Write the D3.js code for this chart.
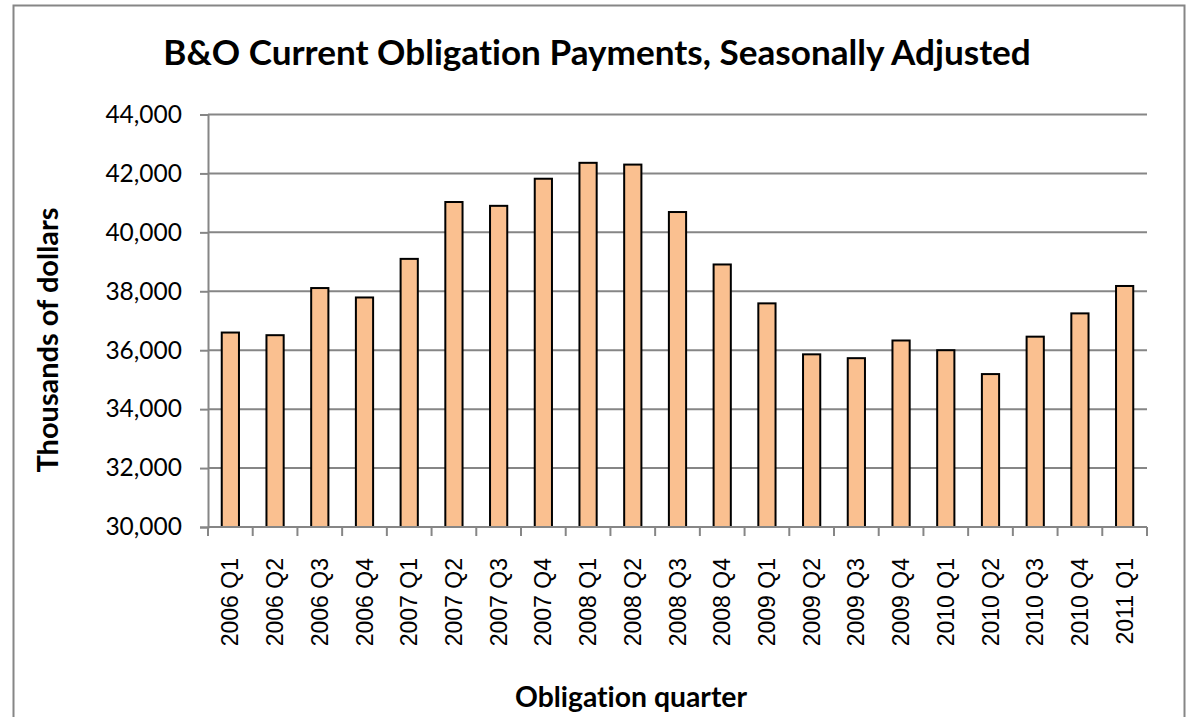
<!DOCTYPE html>
<html>
<head>
<meta charset="utf-8">
<script src="https://cdn.jsdelivr.net/npm/d3@7"></script>
<style>
  html, body { margin: 0; padding: 0; background: #fff; }
  svg { display: block; }
  text { font-variant-ligatures: none; font-feature-settings: "liga" 0, "clig" 0; }
</style>
</head>
<body>
<svg id="chart" width="1186" height="717"></svg>
<script>
const title = "B&O Current Obligation Payments, Seasonally Adjusted";
const yTitle = "Thousands of dollars";
const xTitle = "Obligation quarter";
const quarters = ["2006 Q1","2006 Q2","2006 Q3","2006 Q4","2007 Q1","2007 Q2","2007 Q3","2007 Q4",
  "2008 Q1","2008 Q2","2008 Q3","2008 Q4","2009 Q1","2009 Q2","2009 Q3","2009 Q4",
  "2010 Q1","2010 Q2","2010 Q3","2010 Q4","2011 Q1"];
const payments = [36600, 36510, 38110, 37790, 39100, 41030, 40900, 41820,
  42360, 42300, 40690, 38910, 37590, 35860, 35730, 36330,
  36000, 35190, 36460, 37250, 38180];
const yTicks = [30000, 32000, 34000, 36000, 38000, 40000, 42000, 44000];

const svg = d3.select("#chart");
const calibri = "Lato, 'Open Sans', sans-serif";
const arial = "'Liberation Sans', Arial, sans-serif";
const grey = "#868686";

function fit(sel, target) {
  const n = sel.node();
  const fs = parseFloat(sel.attr("font-size"));
  const w = n.getComputedTextLength();
  sel.attr("font-size", (fs * target / w).toFixed(2));
}

svg.append("rect").attr("x", 13.5).attr("y", 5.5).attr("width", 1171).attr("height", 730)
  .attr("fill", "#fff").attr("stroke", grey).attr("stroke-width", 2);

const plot = {left: 208, right: 1147, top: 114.5, bottom: 527};

const x = d3.scaleBand().domain(quarters).range([plot.left, plot.right]).paddingInner(0.615).paddingOuter(0.3075);
const xb = d3.scaleBand().domain(quarters).range([plot.left, plot.right]);
const y = d3.scaleLinear().domain([30000, 44000]).range([plot.bottom, plot.top]);

svg.append("g").selectAll("line").data(yTicks.slice(1)).join("line")
  .attr("x1", plot.left).attr("x2", plot.right)
  .attr("y1", d => y(d)).attr("y2", d => y(d))
  .attr("stroke", grey).attr("stroke-width", 2);

const yAxis = svg.append("g").attr("transform", `translate(${plot.left},0)`)
  .call(d3.axisLeft(y).tickValues(yTicks).tickFormat(d3.format(",")).tickSize(8).tickPadding(18));
yAxis.select(".domain").attr("stroke", grey).attr("stroke-width", 2);
yAxis.selectAll(".tick line").attr("stroke", grey).attr("stroke-width", 2);
yAxis.selectAll("text").attr("font-family", calibri).attr("font-size", 24.5).attr("fill", "#000");

svg.append("g").selectAll("rect").data(quarters).join("rect")
  .attr("x", d => x(d)).attr("width", x.bandwidth())
  .attr("y", (d, i) => y(payments[i])).attr("height", (d, i) => y(30000) - y(payments[i]))
  .attr("fill", "#FAC090").attr("stroke", "#000").attr("stroke-width", 2);

const xg = svg.append("g").attr("transform", `translate(0,${plot.bottom})`);
xg.append("line").attr("x1", plot.left).attr("x2", plot.right).attr("stroke", grey).attr("stroke-width", 2);
const bounds = quarters.map(q => xb(q)).concat([plot.right]);
xg.selectAll("line.tk").data(bounds).join("line").attr("class", "tk")
  .attr("x1", d => d).attr("x2", d => d).attr("y1", 0).attr("y2", 9)
  .attr("stroke", grey).attr("stroke-width", 2);
xg.selectAll("text").data(quarters).join("text")
  .attr("transform", d => `translate(${xb(d) + xb.bandwidth() / 2 + 8},31) rotate(-90)`)
  .attr("text-anchor", "end")
  .attr("font-family", arial).attr("font-size", 23).attr("fill", "#000")
  .text(d => d);

const t = svg.append("text").attr("x", 597).attr("y", 65).attr("text-anchor", "middle")
  .attr("font-family", calibri).attr("font-weight", "bold").attr("font-size", 31)
  .attr("fill", "#000").text(title);
fit(t, 868);

const yt = svg.append("text").attr("transform", "translate(58,340) rotate(-90)")
  .attr("text-anchor", "middle").attr("font-family", calibri).attr("font-weight", "bold")
  .attr("font-size", 24).attr("fill", "#000").text(yTitle);
fit(yt, 265);

const xt = svg.append("text").attr("x", 631).attr("y", 707).attr("text-anchor", "middle")
  .attr("font-family", calibri).attr("font-weight", "bold").attr("font-size", 24)
  .attr("fill", "#000").text(xTitle);
fit(xt, 232);
</script>
</body>
</html>
